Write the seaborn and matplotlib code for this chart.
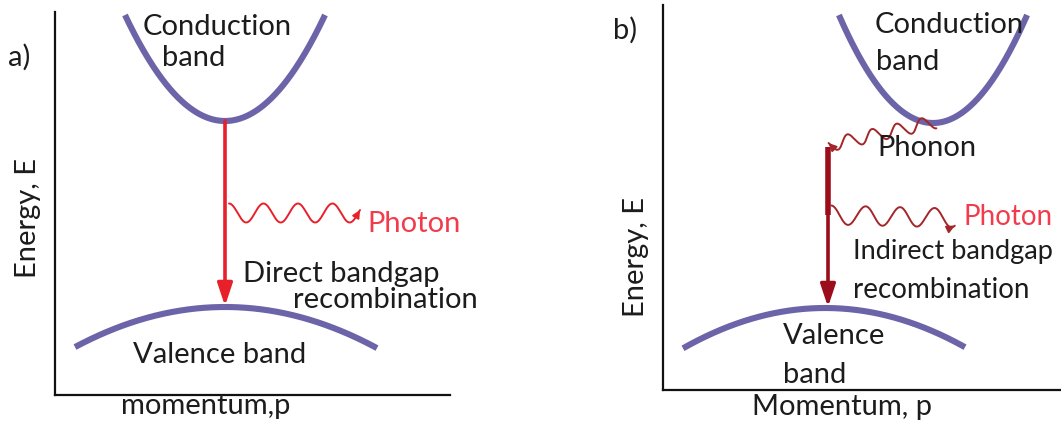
import numpy as np
import matplotlib
matplotlib.use("Agg")
import matplotlib.pyplot as plt
import seaborn as sns

# ---------------- data (diagram geometry, pixel-space units) ----------------
# parabolic bands: vertex momentum, vertex energy, curvature, end momenta
cond_a = dict(px=225, e=121, k=0.0106)
val_a = dict(px=225, e=307, k=0.00178, ends=(75, 377))
cond_b = dict(px=933, e=123, k=0.0122)
val_b = dict(px=825, e=308, k=0.002, ends=(683, 965))
band_top = 15

panel_a_labels = ["Conduction", "band", "Valence band", "Photon",
                  "Direct bandgap", "recombination"]
panel_b_labels = ["Conduction", "band", "Phonon", "Photon",
                  "Indirect bandgap", "recombination", "Valence", "band"]
axis_labels = {"a": ("momentum,p", "Energy, E"), "b": ("Momentum, p", "Energy, E")}

BAND = "#6c64a8"
RED = "#e8202a"
DARKRED = "#9b0d1a"
WAVE_B = "#a3262a"
PHOTON_TXT = "#f23c4c"
TXT = "#1c1c1c"
FS = 21

sns.set_theme(style="white")
plt.rcParams["font.family"] = ["Lato", "DejaVu Sans"]

W, H = 1061, 423
fig = plt.figure(figsize=(W / 100, H / 100), dpi=100)
fig.patch.set_facecolor("white")


def make_ax(x0, y0, x1, y1):
    ax = fig.add_axes([x0 / W, 1 - y1 / H, (x1 - x0) / W, (y1 - y0) / H])
    ax.set_xlim(x0, x1)
    ax.set_ylim(y1, y0)
    ax.set_xticks([])
    ax.set_yticks([])
    ax.set_facecolor("none")
    for s in ["top", "right"]:
        ax.spines[s].set_visible(False)
    for s in ["left", "bottom"]:
        ax.spines[s].set_color("#111111")
        ax.spines[s].set_linewidth(1.6)
    return ax


def cond_curve(c):
    half = np.sqrt((c["e"] - band_top) / c["k"])
    x = np.linspace(c["px"] - half, c["px"] + half, 300)
    return x, c["e"] - c["k"] * (x - c["px"]) ** 2


def val_curve(v):
    x = np.linspace(v["ends"][0], v["ends"][1], 300)
    return x, v["e"] + v["k"] * (x - v["px"]) ** 2


def wave(ax, p0, p1, n, amp, color, lw=1.4):
    p0 = np.array(p0, float)
    p1 = np.array(p1, float)
    t = np.linspace(0, 1, 400)
    d = p1 - p0
    L = np.hypot(*d)
    nrm = np.array([d[1], -d[0]]) / L
    off = amp * np.cos(2 * np.pi * n * t)
    pts = p0[None, :] + t[:, None] * d[None, :] + off[:, None] * nrm[None, :]
    sns.lineplot(x=pts[:, 0], y=pts[:, 1], ax=ax, color=color, linewidth=lw,
                 sort=False, estimator=None)
    ax.annotate("", xy=pts[-1], xytext=pts[-12],
                arrowprops=dict(arrowstyle="-|>", mutation_scale=11, color=color,
                                lw=lw, shrinkA=0, shrinkB=0))


def band(ax, x, y):
    sns.lineplot(x=x, y=y, ax=ax, color=BAND, linewidth=4.4, sort=False,
                 estimator=None, solid_capstyle="butt")


def txt(ax, x, y, s, size=FS, color=TXT, ha="left", rot=0):
    ax.text(x, y, s, fontsize=size, color=color, ha=ha, va="center",
            rotation=rot, clip_on=False)


# ---------------- panel a ----------------
axa = make_ax(55, 12, 450, 395)
band(axa, *cond_curve(cond_a))
band(axa, *val_curve(val_a))
axa.annotate("", xy=(cond_a["px"], val_a["e"] - 1), xytext=(cond_a["px"], cond_a["e"]),
             arrowprops=dict(arrowstyle="-|>,head_length=0.9,head_width=0.3",
                             mutation_scale=15, lw=2.6, color=RED,
                             shrinkA=0, shrinkB=0))
wave(axa, (229, 213), (360, 213), 3.8, 9.5, RED)
txt(axa, 143, 27, panel_a_labels[0])
txt(axa, 162, 58, panel_a_labels[1])
txt(axa, 133, 355, panel_a_labels[2])
txt(axa, 367, 224, panel_a_labels[3], color=PHOTON_TXT)
txt(axa, 243, 274, panel_a_labels[4])
txt(axa, 293, 300, panel_a_labels[5])
txt(axa, 8, 57, "a)")
txt(axa, 206, 406, axis_labels["a"][0], ha="center")
txt(axa, 28, 218, axis_labels["a"][1], ha="center", rot=90)

# ---------------- panel b ----------------
axb = make_ax(663, 5, 1060, 390)
band(axb, *cond_curve(cond_b))
band(axb, *val_curve(val_b))
axb.plot([828, 828], [147, 215], color=DARKRED, lw=4.0, solid_capstyle="butt")
axb.annotate("", xy=(828, val_b["e"] - 1), xytext=(828, 210),
             arrowprops=dict(arrowstyle="-|>,head_length=0.9,head_width=0.3",
                             mutation_scale=15, lw=2.6, color=DARKRED,
                             shrinkA=0, shrinkB=0))
wave(axb, (935, 122), (829, 145), 4.3, 6.5, WAVE_B)
wave(axb, (831, 215), (955, 218), 3.6, 9.5, WAVE_B)
txt(axb, 875, 25, panel_b_labels[0])
txt(axb, 876, 62, panel_b_labels[1])
txt(axb, 877, 148, panel_b_labels[2])
txt(axb, 963, 217, panel_b_labels[3], size=20, color=PHOTON_TXT)
txt(axb, 853, 251, panel_b_labels[4], size=19.5)
txt(axb, 853, 290, panel_b_labels[5], size=20)
txt(axb, 783, 336, panel_b_labels[6])
txt(axb, 783, 375, panel_b_labels[7])
txt(axb, 613, 30, "b)")
txt(axb, 842, 407, axis_labels["b"][0], ha="center")
txt(axb, 636, 257, axis_labels["b"][1], ha="center", rot=90)

fig.savefig("out.png", dpi=100, facecolor="white")
